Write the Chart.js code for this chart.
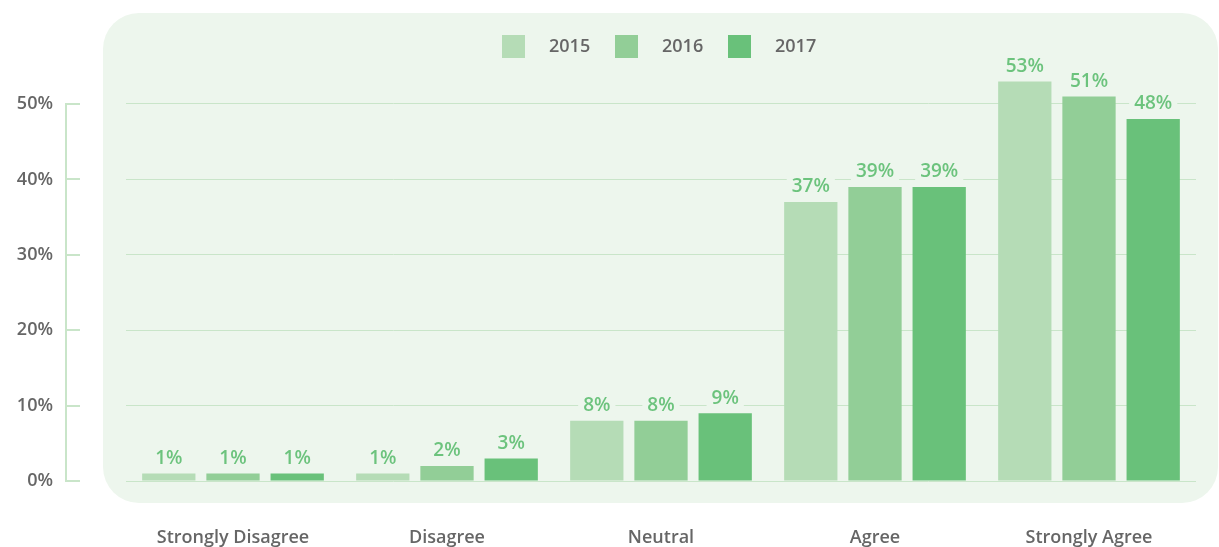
<!DOCTYPE html>
<html lang="en">
<head>
    <meta charset="UTF-8">
    <title>Survey Responses by Year</title>
    <script src="https://cdn.jsdelivr.net/npm/chart.js"></script>
    <style>
        body {
            margin: 0;
            background: #ffffff;
            overflow: hidden;
        }
        canvas {
            display: block;
        }
    </style>
</head>
<body>
    <canvas id="surveyChart" width="1219" height="547"></canvas>

    <script>
        const categories = ['Strongly Disagree', 'Disagree', 'Neutral', 'Agree', 'Strongly Agree'];
        const years = ['2015', '2016', '2017'];
        const values2015 = [1, 1, 8, 37, 53];
        const values2016 = [1, 2, 8, 39, 51];
        const values2017 = [1, 3, 9, 39, 48];
        const yTicks = [0, 10, 20, 30, 40, 50];

        const barColors = ['#b5dcb6', '#92ce97', '#69c17a'];
        const panelColor = '#edf6ed';
        const lineColor = '#c9e5c9';
        const labelGreen = '#6cc37d';
        const textGrey = '#666666';
        const fontFamily = '"Open Sans", "Noto Sans", sans-serif';

        // rounded background panel behind the plot
        const panelPlugin = {
            id: 'panel',
            beforeDraw(chart) {
                const { ctx, chartArea } = chart;
                ctx.save();
                ctx.fillStyle = panelColor;
                ctx.beginPath();
                ctx.roundRect(chartArea.left - 23, 13, chartArea.right - chartArea.left + 45,
                    chartArea.bottom + 22 - 13, 36);
                ctx.fill();
                ctx.restore();
            }
        };

        // bracket-style y axis line with short ticks, left of the panel
        const bracketPlugin = {
            id: 'bracket',
            afterDraw(chart) {
                const { ctx } = chart;
                const y = chart.scales.y;
                const top = Math.round(y.getPixelForValue(yTicks[yTicks.length - 1]));
                const bottom = Math.round(y.getPixelForValue(0));
                ctx.save();
                ctx.strokeStyle = lineColor;
                ctx.lineWidth = 2;
                ctx.beginPath();
                ctx.moveTo(66, top - 1);
                ctx.lineTo(66, bottom + 1);
                yTicks.forEach(v => {
                    const py = Math.round(y.getPixelForValue(v));
                    ctx.moveTo(66, py);
                    ctx.lineTo(80, py);
                });
                ctx.stroke();
                ctx.restore();
            }
        };

        // value labels above bars, with a panel-coloured backing
        const valueLabelPlugin = {
            id: 'valueLabels',
            afterDatasetsDraw(chart) {
                const { ctx } = chart;
                ctx.save();
                ctx.font = '600 19px ' + fontFamily;
                ctx.textAlign = 'center';
                ctx.textBaseline = 'middle';
                chart.data.datasets.forEach((ds, i) => {
                    chart.getDatasetMeta(i).data.forEach((bar, j) => {
                        const text = ds.data[j] + '%';
                        const w = ctx.measureText(text).width;
                        const cy = bar.y - 15;
                        ctx.fillStyle = panelColor;
                        ctx.fillRect(bar.x - w / 2 - 5, cy - 11, w + 10, 22);
                        ctx.fillStyle = labelGreen;
                        ctx.fillText(text, bar.x, cy);
                    });
                });
                ctx.restore();
            }
        };

        // legend drawn as squares + year labels across the top of the panel
        const legendPlugin = {
            id: 'squareLegend',
            afterDraw(chart) {
                const { ctx } = chart;
                ctx.save();
                ctx.font = '600 18px ' + fontFamily;
                ctx.textBaseline = 'middle';
                ctx.textAlign = 'left';
                let x = 502;
                years.forEach((yr, i) => {
                    ctx.fillStyle = barColors[i];
                    ctx.fillRect(x, 35, 23, 23);
                    ctx.fillStyle = textGrey;
                    ctx.fillText(yr, x + 47, 47);
                    x += 113;
                });
                ctx.restore();
            }
        };

        new Chart(document.getElementById('surveyChart'), {
            type: 'bar',
            data: {
                labels: categories,
                datasets: [
                    { label: years[0], data: values2015, backgroundColor: barColors[0] },
                    { label: years[1], data: values2016, backgroundColor: barColors[1] },
                    { label: years[2], data: values2017, backgroundColor: barColors[2] }
                ]
            },
            options: {
                responsive: false,
                animation: false,
                layout: {
                    padding: { top: 28.6, right: 23, bottom: 0, left: 0 }
                },
                datasets: {
                    bar: { categoryPercentage: 0.9, barPercentage: 0.83 }
                },
                plugins: {
                    legend: { display: false },
                    tooltip: { enabled: false }
                },
                scales: {
                    x: {
                        grid: { display: false },
                        border: { display: false },
                        ticks: {
                            color: textGrey,
                            padding: 38,
                            font: { family: fontFamily, size: 18, weight: '600' }
                        },
                        afterFit(scale) { scale.height = 66; }
                    },
                    y: {
                        min: 0,
                        max: 60,
                        afterBuildTicks(axis) {
                            axis.ticks = yTicks.map(v => ({ value: v }));
                        },
                        grid: { color: lineColor, drawTicks: false },
                        border: { display: false },
                        ticks: {
                            color: textGrey,
                            padding: 73,
                            font: { family: fontFamily, size: 18, weight: '600' },
                            callback: v => v + '%'
                        },
                        // keep the wide label gap from eating into the plot height
                        afterFit(scale) {
                            scale.width = 126;
                            scale.paddingTop = 0;
                            scale.paddingBottom = 0;
                        }
                    }
                }
            },
            plugins: [panelPlugin, bracketPlugin, valueLabelPlugin, legendPlugin]
        });
    </script>
</body>
</html>
